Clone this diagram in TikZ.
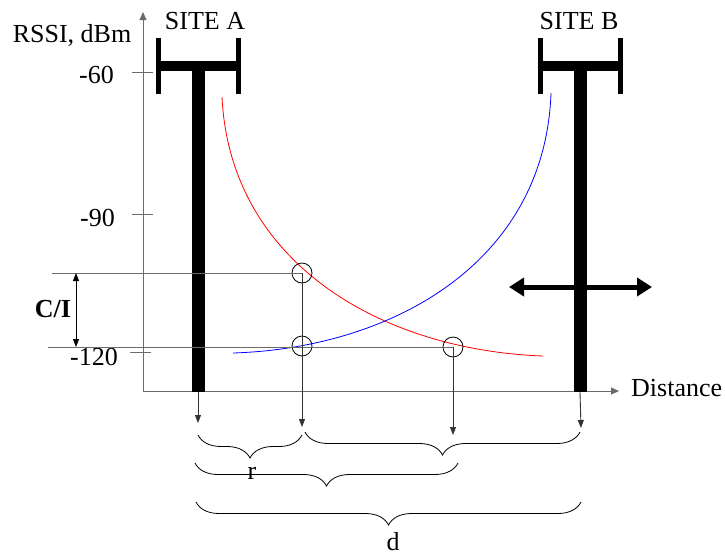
\documentclass[tikz,border=0pt]{standalone}
\usepackage{fontspec}
\setmainfont{Liberation Serif}
\usetikzlibrary{arrows.meta,decorations.pathreplacing}
\definecolor{axisgray}{gray}{0.42}
\tikzset{
	axis/.style={draw=axisgray,line width=1pt},
	drop/.style={draw=black!80,line width=0.9pt,-{Triangle[length=8pt,width=6pt]}},
	level/.style={draw=axisgray,line width=1pt},
	spot/.style={draw,circle,minimum size=20pt,inner sep=0pt,line width=0.8pt},
	span/.style={decorate,decoration={brace,mirror,amplitude=23pt},line width=0.8pt},
	lbl/.style={inner sep=0pt,anchor=base}
}
% tower: x position, name
\newcommand{\tower}[2]{
	\fill (#1-6.5,66) rectangle (#1+6.5,392);
	\fill (#1-40,61) rectangle (#1+40,71);
	\fill (#1-42.5,38) rectangle (#1-37.5,94);
	\fill (#1+37.5,38) rectangle (#1+42.5,94);
	\coordinate (#2) at (#1,392);
}

\begin{document}
\begin{tikzpicture}[x=1pt,y=-1pt,font=\fontsize{26}{30}\selectfont]
			\useasboundingbox (0,0) rectangle (725,555);
			% axes
			\coordinate (orig) at (143,391);
			\coordinate (ytip) at (143,12);
			\coordinate (xtip) at (619,391);
			\draw[axis,-{Triangle[length=8pt,width=7pt]}] (orig) -- (ytip);
			\draw[axis,-{Triangle[length=8pt,width=7pt]}] (orig) -- (xtip);
			\node[lbl] (rssi) at (72,42) {RSSI, dBm};
			\node[lbl,anchor=base west] (dist) at (631,396) {Distance};
			\draw[axis] (132,72) -- (153,72);
			\draw[axis] (132,214) -- (153,214);
			\draw[axis] (130,352) -- (151,352);
			\node[lbl,anchor=base east] (m60) at (114,83) {-60};
			\node[lbl,anchor=base east] (m90) at (115,226) {-90};
			\node[lbl,anchor=base east] (m120) at (118,365) {-120};
			% sites
			\tower{198}{baseA}
			\tower{580}{baseB}
			\node[lbl] (siteA) at (205,29) {SITE A};
			\node[lbl] (siteB) at (579,29) {SITE B};
			\draw[line width=5pt,{Triangle[length=15pt,width=18pt]}-{Triangle[length=15pt,width=18pt]}] (509,287) -- (652,287);
			% signal curves
			\draw[red,line width=0.8pt] (222,97) .. controls (230,262) and (380,350) .. (543,356);
			\draw[blue,line width=0.8pt] (233,353) .. controls (393,348) and (545,262) .. (551,93);
			% levels
			\node[spot] (pc) at (302,273) {};
			\node[spot] (pi) at (302,346) {};
			\node[spot] (pj) at (453,347) {};
			\coordinate (cTop) at (52,273);
			\coordinate (cBot) at (48,347);
			\draw[level] (cTop) -- (pc.center);
			\draw[level] (cBot) -- (pj.center);
			\draw[line width=0.8pt,{Triangle[length=8pt,width=6pt]}-{Triangle[length=8pt,width=6pt]}] (76,273) -- (76,347);
			\node[lbl,font=\fontsize{26}{30}\selectfont\bfseries] (ci) at (53,317) {C/I};
			% drops to distance
			\coordinate (dA) at (198,423);
			\coordinate (dC) at (302,427);
			\coordinate (dJ) at (453,435);
			\coordinate (dB) at (581,428);
			\draw[drop] (baseA) -- (dA);
			\draw[drop] (pc.center) -- (dC);
			\draw[drop] (pj.center) -- (dJ);
			\draw[drop] (baseB) -- (dB);
			% spans
			\draw[span] (198,435) -- (302,435);
			\draw[span] (305,432) -- (580,432);
			\draw[span] (195,463) -- (458,463);
			\draw[span] (196,502) -- (581,502);
			\node[lbl] (r) at (252,479) {r};
			\node[lbl] (d) at (393,550) {d};
		\end{tikzpicture}
\end{document}
